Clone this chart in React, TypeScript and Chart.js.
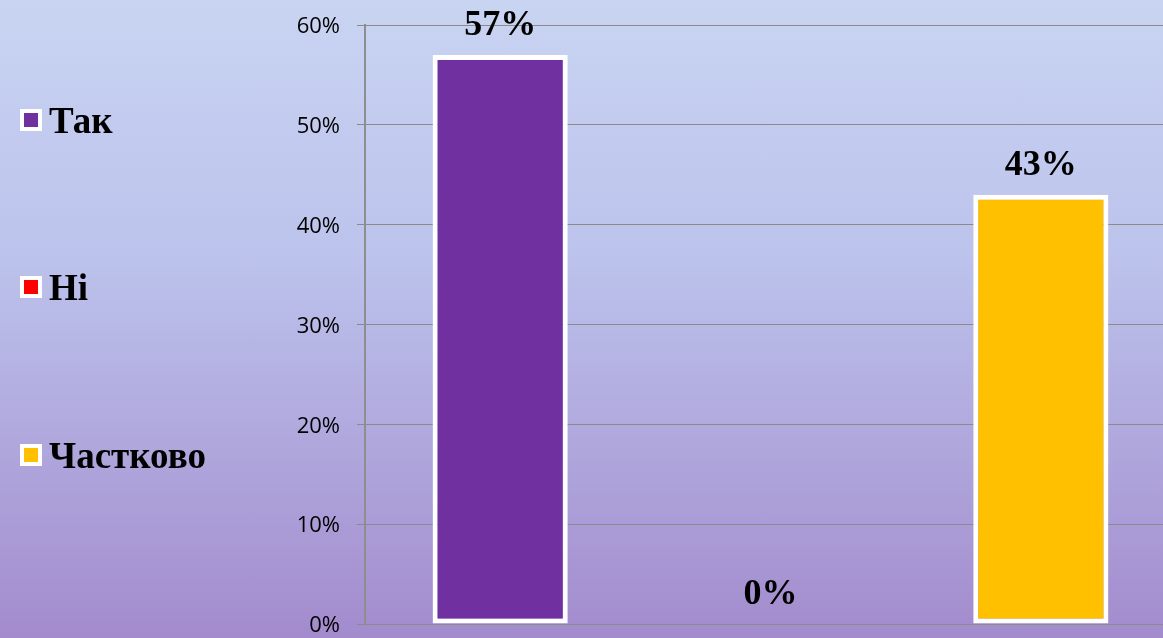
import React, { useEffect, useRef } from "react";
import { Chart, registerables } from "chart.js";

Chart.register(...registerables);

const categories = ["Так", "Ні", "Частково"];
const values = [57, 0, 43];
const barColors = ["#7030A0", "#FF0000", "#FFC000"];
const yTicks = [0, 10, 20, 30, 40, 50, 60];

const legendPlugin = {
  id: "sideLegend",
  afterDraw(chart: any) {
    const ctx = chart.ctx;
    const centers = [120, 287, 455];
    ctx.save();
    categories.forEach((label, i) => {
      const cy = centers[i];
      ctx.fillStyle = "#ffffff";
      ctx.fillRect(20, cy - 11, 22, 22);
      ctx.fillStyle = barColors[i];
      ctx.fillRect(24, cy - 7, 14, 14);
      ctx.fillStyle = "#000000";
      ctx.font = "bold 37px 'Liberation Serif'";
      ctx.textAlign = "left";
      ctx.textBaseline = "alphabetic";
      ctx.fillText(label, 49, cy + 13);
    });
    ctx.restore();
  },
};

const dataLabelPlugin = {
  id: "dataLabels",
  afterDatasetsDraw(chart: any) {
    const ctx = chart.ctx;
    const meta = chart.getDatasetMeta(0);
    ctx.save();
    ctx.fillStyle = "#000000";
    ctx.font = "bold 36px 'Liberation Serif'";
    ctx.textAlign = "center";
    ctx.textBaseline = "alphabetic";
    meta.data.forEach((bar: any, i: number) => {
      ctx.fillText(values[i] + "%", bar.x, bar.y - 20);
    });
    ctx.restore();
  },
};

export default function App() {
  const ref = useRef<HTMLCanvasElement>(null);
  useEffect(() => {
    if (!ref.current) return;
    const chart = new Chart(ref.current, {
      type: "bar",
      data: {
        labels: categories,
        datasets: [
          {
            data: values,
            backgroundColor: barColors,
            borderColor: "#ffffff",
            borderWidth: 5,
            borderSkipped: false,
            barPercentage: 0.5,
            categoryPercentage: 1,
          },
        ],
      },
      options: {
        animation: false,
        responsive: false,
        devicePixelRatio: 1,
        layout: { padding: { top: 25, bottom: 14, left: 0, right: 0 } },
        plugins: { legend: { display: false }, tooltip: { enabled: false } },
        scales: {
          x: { display: false },
          y: {
            min: 0,
            max: 60,
            afterBuildTicks(scale: any) {
              scale.ticks = yTicks.map((v) => ({ value: v }));
            },
            afterFit(scale: any) {
              scale.width = 365;
              scale.paddingTop = 0;
              scale.paddingBottom = 0;
            },
            ticks: {
              padding: 17,
              labelOffset: 2,
              color: "#000000",
              font: { family: "'Open Sans'", size: 22 },
              callback: (v: any) => v + "%",
            },
            grid: { color: "#8a8a8a", lineWidth: 1, tickLength: 8 },
            border: { color: "#8e8e8e", width: 2 },
          },
        },
      },
      plugins: [dataLabelPlugin, legendPlugin],
    });
    return () => chart.destroy();
  }, []);
  return (
    <div
      style={{
        position: "fixed",
        left: 0,
        top: 0,
        width: 1163,
        height: 638,
        overflow: "hidden",
        background: "linear-gradient(to bottom, #c9d4f2 0%, #bcc3ec 40%, #a38bcd 100%)",
      }}
    >
      <canvas ref={ref} width={1176} height={638} style={{ display: "block" }} />
    </div>
  );
}
